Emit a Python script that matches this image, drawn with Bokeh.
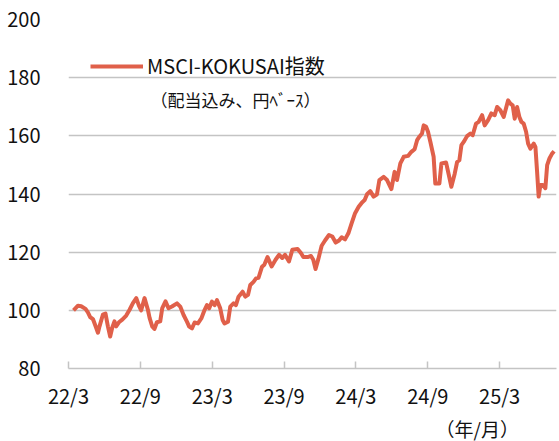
from bokeh.plotting import figure
from bokeh.models import FixedTicker, Legend, LegendItem, Label, Range1d, Title
from bokeh.embed import file_html
from bokeh.resources import INLINE

# months elapsed since 2022/3 (label time) and index level
months = [0.42, 0.79, 1.06, 1.42, 1.62, 1.81, 2.04, 2.31, 2.46, 2.59, 2.87, 3.09, 3.29, 3.48, 3.65,
          3.84, 3.98, 4.21, 4.49, 4.82, 5.10, 5.38, 5.66, 5.88, 6.07, 6.35, 6.63, 6.77, 6.99, 7.18,
          7.38, 7.66, 7.83, 8.10, 8.35, 8.64, 9.06, 9.33, 9.61, 9.89, 10.08, 10.31, 10.53, 10.81,
          11.09, 11.36, 11.56, 11.75, 11.98, 12.20, 12.40, 12.67, 12.87, 13.03, 13.32, 13.51, 13.78,
          13.98, 14.20, 14.54, 14.76, 14.99, 15.18, 15.45, 15.66, 15.87, 16.16, 16.35, 16.62, 16.96,
          17.29, 17.58, 17.85, 18.08, 18.41, 18.69, 19.13, 19.41, 19.61, 19.97, 20.25, 20.44, 20.63,
          20.86, 21.14, 21.42, 21.75, 22.03, 22.31, 22.59, 22.81, 23.09, 23.37, 23.64, 23.93, 24.23,
          24.51, 24.73, 24.93, 25.20, 25.48, 25.76, 25.96, 26.32, 26.60, 26.96, 27.23, 27.43, 27.71,
          27.99, 28.35, 28.63, 28.90, 29.11, 29.30, 29.52, 29.66, 29.86, 30.02, 30.22, 30.49, 30.63,
          30.97, 31.14, 31.53, 31.75, 31.97, 32.25, 32.45, 32.64, 32.81, 33.00, 33.28, 33.56, 33.75,
          34.03, 34.25, 34.54, 34.75, 35.04, 35.31, 35.59, 35.79, 36.06, 36.34, 36.71, 36.90, 37.09,
          37.26, 37.46, 37.65, 37.82, 38.01, 38.21, 38.38, 38.57, 38.85, 38.99, 39.13, 39.26, 39.41,
          39.60, 39.82, 39.97, 40.16, 40.38, 40.55]

index_values = [100.0, 101.6, 101.4, 100.5, 99.3, 97.7, 97.0, 94.0, 92.3, 94.5, 98.5, 98.9, 94.5, 91.0, 94.0,
                96.2, 94.5, 95.9, 96.8, 98.2, 100.2, 102.5, 104.2, 101.6, 100.0, 104.2, 100.2, 97.4, 94.5, 93.6,
                95.9, 96.2, 100.8, 103.1, 100.7, 101.3, 102.4, 101.3, 98.4, 96.1, 94.4, 93.8, 95.8, 95.5,
                97.2, 100.1, 101.8, 100.7, 103.0, 101.8, 103.5, 100.7, 96.7, 95.5, 96.1, 101.3, 102.4,
                101.8, 104.7, 106.4, 104.7, 105.3, 108.7, 109.8, 111.0, 111.2, 115.0, 115.7, 118.3, 115.1,
                117.4, 119.1, 118.0, 119.1, 116.8, 120.8, 121.1, 119.7, 118.3, 118.3, 118.7, 117.4, 114.2,
                117.6, 122.2, 124.0, 125.9, 125.4, 123.3, 124.0, 125.1, 124.4, 126.5, 129.9, 133.4, 135.6,
                137.1, 137.9, 139.9, 141.0, 139.1, 139.9, 144.8, 145.9, 144.8, 141.7, 147.6, 144.8, 150.5,
                152.8, 153.1, 154.5, 155.4, 158.5, 159.7, 160.8, 163.6, 163.1, 161.4, 157.9, 152.8, 143.6,
                143.6, 150.5, 150.8, 146.7, 142.5, 147.0, 151.0, 151.6, 156.8, 157.9, 159.9, 160.8, 160.2,
                164.2, 164.8, 167.1, 163.6, 165.4, 167.7, 167.1, 169.9, 168.8, 166.5, 172.2, 171.1, 170.5,
                165.9, 169.9, 166.5, 164.8, 164.2, 161.4, 157.3, 155.6, 157.3, 156.2, 147.6, 139.1, 143.1,
                143.1, 142.0, 149.9, 152.2, 153.9, 154.7]

x_tick_months = [0, 6, 12, 18, 24, 30, 36]
x_tick_labels = ["22/3", "22/9", "23/3", "23/9", "24/3", "24/9", "25/3"]
y_ticks = [80, 100, 120, 140, 160, 180, 200]

series_name = "MSCI-KOKUSAI指数"
series_note = "（配当込み、円ﾍﾞｰｽ）"
x_unit = "（年/月）"

FONT = "Noto Sans CJK JP"
LINE_COLOR = "#E0604A"
GRID = "#c4c4c4"
TEXT = "#111111"

p = figure(width=559, height=441, output_backend="svg", toolbar_location=None,
           x_range=Range1d(0, 40.75), y_range=Range1d(80, 200),
           min_border_left=68, min_border_right=3, min_border_top=19, min_border_bottom=72)
p.outline_line_color = None
p.background_fill_color = "white"
p.border_fill_color = "white"

r = p.line(months, index_values, line_color=LINE_COLOR, line_width=4, line_join="round")

# axes
p.yaxis.ticker = FixedTicker(ticks=y_ticks)
p.yaxis.axis_line_color = None
p.yaxis.major_tick_line_color = None
p.yaxis.minor_tick_line_color = None
p.yaxis.major_label_standoff = 22
p.yaxis.major_label_text_font = FONT
p.yaxis.major_label_text_font_size = "20px"
p.yaxis.major_label_text_color = TEXT

p.xaxis.ticker = FixedTicker(ticks=x_tick_months)
p.xaxis.major_label_overrides = {m: l for m, l in zip(x_tick_months, x_tick_labels)}
p.xaxis.axis_line_color = GRID
p.xaxis.axis_line_width = 1.5
p.xaxis.major_tick_line_color = GRID
p.xaxis.major_tick_line_width = 1.5
p.xaxis.major_tick_in = 7
p.xaxis.major_tick_out = 0
p.xaxis.minor_tick_line_color = None
p.xaxis.major_label_standoff = 12
p.xaxis.major_label_text_font = FONT
p.xaxis.major_label_text_font_size = "20px"
p.xaxis.major_label_text_color = TEXT

p.xgrid.grid_line_color = None
p.ygrid.ticker = FixedTicker(ticks=y_ticks)
p.ygrid.grid_line_color = GRID
p.ygrid.grid_line_width = 1.5

legend = Legend(items=[LegendItem(label=series_name, renderers=[r])],
                location=(22, 288), orientation="vertical",
                glyph_width=53, glyph_height=20, label_height=20, label_standoff=4,
                padding=0, margin=0, spacing=0,
                border_line_color=None, background_fill_alpha=0,
                label_text_font=FONT, label_text_font_size="20px", label_text_color=TEXT)
p.add_layout(legend, "center")

p.add_layout(Label(x=6.85, y=172.6, text=series_note, text_font=FONT, text_font_size="17px",
                   text_baseline="middle", text_align="left", text_color=TEXT))

unit_title = Title(text=x_unit, align="left", offset=367, standoff=0,
                   text_font=FONT, text_font_size="19px", text_font_style="normal",
                   text_color=TEXT)
p.add_layout(unit_title, "below")

open("out.html", "w").write(file_html(p, INLINE))
